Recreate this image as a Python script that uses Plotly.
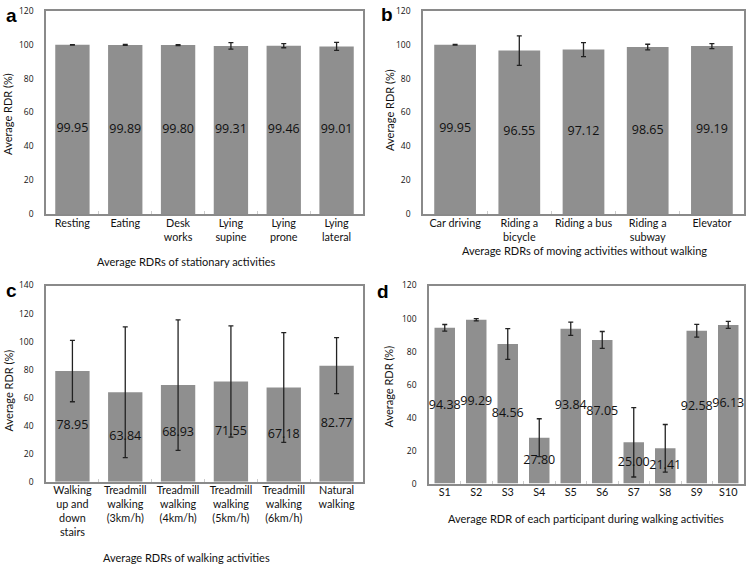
import plotly.graph_objects as go

W, H = 748, 571

cats_a = ["Resting", "Eating", "Desk<br>works", "Lying<br>supine", "Lying<br>prone", "Lying<br>lateral"]
vals_a = [99.95, 99.89, 99.80, 99.31, 99.46, 99.01]
errs_a = [0.15, 0.3, 0.3, 1.9, 1.25, 2.4]

cats_b = ["Car driving", "Riding a<br>bicycle", "Riding a bus", "Riding a<br>subway", "Elevator"]
vals_b = [99.95, 96.55, 97.12, 98.65, 99.19]
errs_b = [0.2, 8.7, 4.1, 1.65, 1.5]

cats_c = ["Walking<br>up and<br>down<br>stairs", "Treadmill<br>walking<br>(3km/h)", "Treadmill<br>walking<br>(4km/h)",
          "Treadmill<br>walking<br>(5km/h)", "Treadmill<br>walking<br>(6km/h)", "Natural<br>walking"]
vals_c = [78.95, 63.84, 68.93, 71.55, 67.18, 82.77]
errs_c = [21.9, 46.7, 46.6, 39.7, 39.2, 20.0]

cats_d = ["S1", "S2", "S3", "S4", "S5", "S6", "S7", "S8", "S9", "S10"]
vals_d = [94.38, 99.29, 84.56, 27.80, 93.84, 87.05, 25.00, 21.41, 92.58, 96.13]
errs_d = [2.0, 0.7, 9.3, 11.5, 4.0, 5.1, 21.0, 14.4, 3.9, 2.1]

titles = ["Average RDRs of stationary activities",
          "Average RDRs of moving activities without walking",
          "Average RDRs of walking activities",
          "Average RDR of each participant during walking activities"]

FONT = "Lato"
NUMFONT = "Open Sans"
BAR = "#8f8f8f"
FRAME = "#8a8a8a"

# plot areas in pixels: (left, right, top, bottom)
boxes = [(46, 363, 5, 212), (423, 744, 5, 212), (46, 363, 285, 485), (429, 744, 285, 487)]
yranges = [120, 120, 140, 120]
data = [(cats_a, vals_a, errs_a), (cats_b, vals_b, errs_b), (cats_c, vals_c, errs_c), (cats_d, vals_d, errs_d)]

fig = go.Figure()
layout = {}
for i, ((cats, vals, errs), box, ymax) in enumerate(zip(data, boxes, yranges)):
    n = "" if i == 0 else str(i + 1)
    xa, ya = "x" + n, "y" + n
    fig.add_trace(go.Bar(x=cats, y=vals, marker=dict(color=BAR, line=dict(width=0)),
                         error_y=dict(type="data", array=errs, color="#222222", thickness=1.3, width=2.5),
                         xaxis=xa, yaxis=ya, showlegend=False, hoverinfo="skip"))
    fig.add_trace(go.Scatter(x=cats, y=[v / 2 for v in vals], mode="text",
                             text=[f"{v:.2f}" for v in vals],
                             textfont=dict(family=NUMFONT, size=12.5, color="#111111"),
                             textposition="middle center", cliponaxis=False,
                             xaxis=xa, yaxis=ya, showlegend=False, hoverinfo="skip"))
    l, r, t, b = box
    layout["xaxis" + n] = dict(domain=[l / W, r / W], anchor=ya, showline=True, mirror=True,
                               linecolor=FRAME, linewidth=1.5, ticks="inside", ticklen=3,
                               tickcolor="#cccccc", tickson="boundaries", showgrid=False,
                               tickangle=0,
                               tickfont=dict(family=FONT, size=10.8, color="#111111"),
                               ticklabelstandoff=-2, fixedrange=True)
    layout["yaxis" + n] = dict(domain=[1 - b / H, 1 - t / H], anchor=xa, range=[0, ymax], dtick=20,
                               showline=True, mirror=True, linecolor=FRAME, linewidth=1.5,
                               showgrid=False, zeroline=False, ticks="",
                               tickfont=dict(family=NUMFONT, size=8.5, color="#111111"),
                               ticklabelstandoff=9, fixedrange=True)

fig.update_layout(**layout)
fig.update_layout(width=W, height=H, margin=dict(l=0, r=0, t=0, b=0),
                  paper_bgcolor="white", plot_bgcolor="white", bargap=0.35,
                  font=dict(family=FONT))

ann = []
def px(x, y):
    return x / W, 1 - y / H

# x-axis titles
for (x, y), txt in zip([(186, 261), (584, 249), (186, 562), (586, 523)], titles):
    xx, yy = px(x, y)
    ann.append(dict(x=xx, y=yy, xref="paper", yref="paper", text=txt, showarrow=False,
                    font=dict(family=FONT, size=11, color="#111111"), xanchor="center", yanchor="middle"))
# y-axis titles
for (x, y) in [(8, 110), (390, 106), (8, 392), (389, 388)]:
    xx, yy = px(x, y)
    ann.append(dict(x=xx, y=yy, xref="paper", yref="paper", text="Average RDR (%)", showarrow=False,
                    textangle=-90, font=dict(family=FONT, size=11, color="#111111"),
                    xanchor="center", yanchor="middle"))
# panel letters
for (x, y), letter in zip([(11, 10), (387, 9), (11, 290), (383, 291)], ["a", "b", "c", "d"]):
    xx, yy = px(x, y)
    ann.append(dict(x=xx, y=yy, xref="paper", yref="paper", text=f"<b>{letter}</b>", showarrow=False,
                    font=dict(family="Liberation Sans", size=19, color="#000000"),
                    xanchor="center", yanchor="middle"))
fig.update_layout(annotations=ann)

post = (
    "var gd=document.getElementById('{plot_id}');"
    "var p=gd.parentElement;"
    "p.style.height='571px';p.style.width='748px';p.style.overflow='hidden';p.style.lineHeight='0';"
    "document.body.style.margin='0';document.body.style.padding='0';"
    "document.body.style.height='571px';document.body.style.overflow='hidden';"
    "document.documentElement.style.height='571px';document.documentElement.style.overflow='hidden';"
)
fig.write_html("out.html", config={"displayModeBar": False}, post_script=post)
